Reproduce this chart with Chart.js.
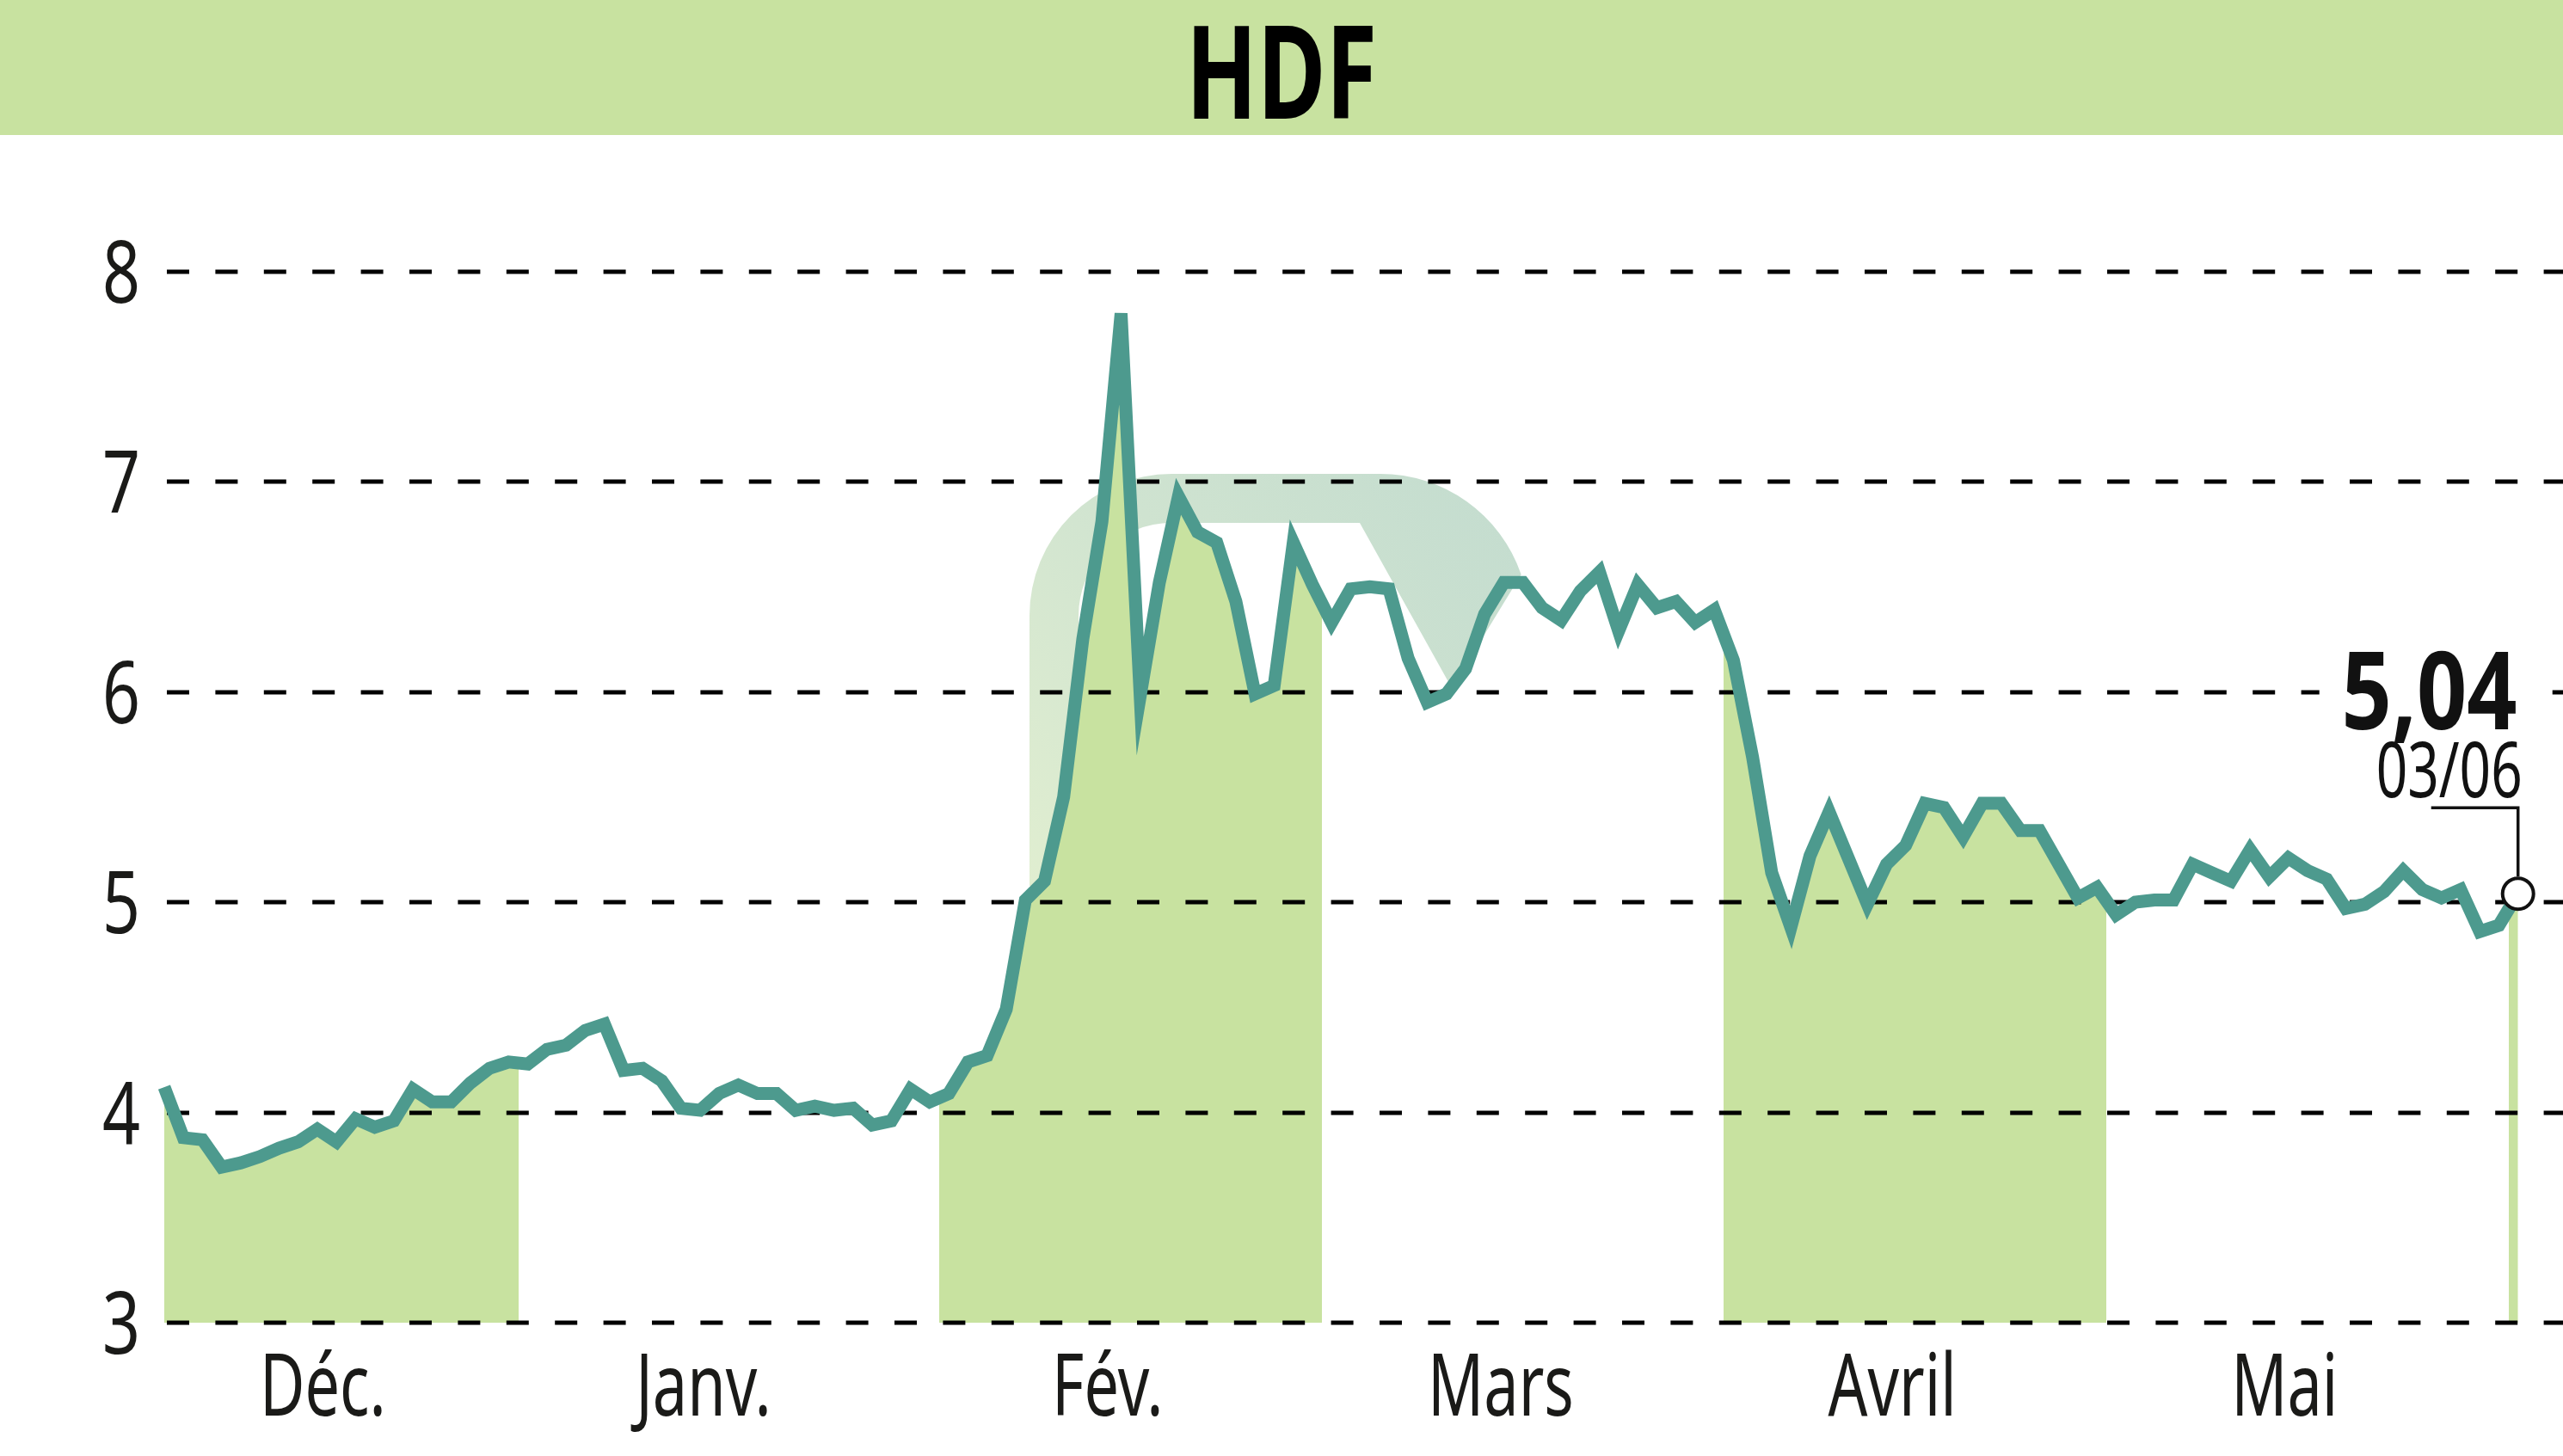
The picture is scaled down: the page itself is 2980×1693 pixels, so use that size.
<!DOCTYPE html>
<html lang="fr">
<head>
<meta charset="utf-8">
<title>HDF</title>
<script src="https://cdn.jsdelivr.net/npm/chart.js@4.4.1/dist/chart.umd.min.js"></script>
<style>
    html, body { margin: 0; padding: 0; background: #ffffff; }
    #wrap { position: relative; width: 2980px; height: 1693px; }
</style>
</head>
<body>
<div id="wrap"><canvas id="myChart"></canvas></div>
<script>
const title = "HDF";

// closing prices, one per trading day (Dec -> 03/06)
const prices = [
    4.12, 3.88, 3.87, 3.74, 3.76, 3.79, 3.83, 3.86, 3.92, 3.86,
    3.97, 3.93, 3.96, 4.11, 4.05, 4.05, 4.14, 4.21, 4.24, 4.23,
    4.30, 4.32, 4.39, 4.42, 4.20, 4.21, 4.15, 4.02, 4.01, 4.09,
    4.13, 4.09, 4.09, 4.01, 4.03, 4.01, 4.02, 3.94, 3.96, 4.11,
    4.05, 4.09, 4.24, 4.27, 4.49, 5.01, 5.10, 5.50, 6.25, 6.81,
    7.80, 5.98, 6.52, 6.93, 6.76, 6.71, 6.43, 5.99, 6.03, 6.71,
    6.51, 6.33, 6.49, 6.50, 6.49, 6.16, 5.95, 5.99, 6.11, 6.37,
    6.52, 6.52, 6.40, 6.34, 6.48, 6.57, 6.29, 6.51, 6.40, 6.43,
    6.33, 6.39, 6.15, 5.69, 5.14, 4.88, 5.22, 5.43, 5.21, 4.99,
    5.18, 5.27, 5.47, 5.45, 5.31, 5.47, 5.47, 5.34, 5.34, 5.18,
    5.02, 5.07, 4.94, 5.00, 5.01, 5.01, 5.18, 5.14, 5.10, 5.25,
    5.12, 5.21, 5.15, 5.11, 4.97, 4.99, 5.05, 5.15, 5.06, 5.02,
    5.06, 4.86, 4.89, 5.04
];

// index of the first trading day of each month (Déc ... Juin)
const monthStarts = [0, 19, 41, 61, 82, 102, 123];
const monthNames = ["Déc.", "Janv.", "Fév.", "Mars", "Avril", "Mai"];
const monthLabelPos = [8.29, 28.18, 49.3, 69.84, 90.3, 110.8];

const yTicks = [3, 4, 5, 6, 7, 8];
const lastDate = "03/06";

const GREEN = "#c8e2a0";
const LINE = "#4d9a8e";
const INK = "#1a1a18";
const FONT = "'Noto Sans', 'Open Sans', 'Liberation Sans', sans-serif";

const points = prices.map((v, i) => ({ x: i, y: v }));

// shaded months: Déc, Fév, Avril, Juin
function shadedBands() {
    const bands = [];
    for (let k = 0; k < monthStarts.length; k += 2) {
        const from = monthStarts[k] - 0.5;
        const to = (k + 1 < monthStarts.length ? monthStarts[k + 1] : prices.length) - 0.5;
        bands.push([from, to]);
    }
    return bands;
}

function bandGradient(context) {
    const chart = context.chart;
    const { ctx, chartArea, scales } = chart;
    if (!chartArea || !scales.x) return GREEN;
    const x = scales.x;
    const left = chartArea.left;
    const w = chartArea.right - chartArea.left;
    const g = ctx.createLinearGradient(left, 0, chartArea.right, 0);
    const clamp = (p) => Math.min(1, Math.max(0, p));
    const clear = "rgba(255,255,255,0)";
    g.addColorStop(0, clear);
    shadedBands().forEach(([a, b]) => {
        const pa = clamp((x.getPixelForValue(a) - left) / w);
        const pb = clamp((x.getPixelForValue(b) - left) / w);
        g.addColorStop(pa, clear);
        g.addColorStop(pa, GREEN);
        g.addColorStop(pb, GREEN);
        g.addColorStop(pb, clear);
    });
    g.addColorStop(1, clear);
    return g;
}

// the reference uses a condensed face, so squeeze the text horizontally
function condensedText(ctx, text, x, y, font, sx, align) {
    ctx.save();
    ctx.translate(x, y);
    ctx.scale(sx, 1);
    ctx.font = font;
    ctx.textAlign = align;
    ctx.textBaseline = "alphabetic";
    ctx.fillText(text, 0, 0);
    ctx.restore();
}

// faded logo behind the curve
function drawWatermark(ctx) {
    const g = ctx.createLinearGradient(1197, 1030, 1780, 560);
    g.addColorStop(0, "#e0eed0");
    g.addColorStop(0.5, "#cfe3d0");
    g.addColorStop(1, "#c3dccf");
    ctx.fillStyle = g;
    ctx.beginPath();
    ctx.moveTo(1197, 1030);
    ctx.lineTo(1197, 716);
    ctx.arc(1362, 716, 165, Math.PI, 1.5 * Math.PI);
    ctx.lineTo(1605, 551);
    ctx.arc(1605, 724, 173, 1.5 * Math.PI, 2 * Math.PI - 0.33);
    ctx.lineTo(1688, 800);
    ctx.lineTo(1581, 608);
    ctx.lineTo(1362, 608);
    ctx.arc(1362, 716, 108, 1.5 * Math.PI, Math.PI, true);
    ctx.lineTo(1254, 1030);
    ctx.closePath();
    ctx.fill();
}

const decor = {
    id: "decor",
    beforeDraw(chart) {
        const { ctx, width, height } = chart;
        ctx.save();
        ctx.fillStyle = "#ffffff";
        ctx.fillRect(0, 0, width, height);
        ctx.fillStyle = GREEN;
        ctx.fillRect(0, 0, width, 157);
        ctx.fillStyle = "#000000";
        condensedText(ctx, title, width / 2, 138, "bold 151px " + FONT, 0.72, "center");
        drawWatermark(ctx);
        ctx.restore();
    },
    // dashed grid goes over the green fill but under the line
    beforeDatasetDraw(chart, args) {
        if (args.index !== 0) return;
        const { ctx, chartArea } = chart;
        const y = chart.scales.y;
        ctx.save();
        ctx.strokeStyle = "#000000";
        ctx.lineWidth = 5;
        ctx.setLineDash([26, 30.4]);
        y.ticks.forEach((t) => {
            const py = Math.round(y.getPixelForValue(t.value));
            ctx.beginPath();
            ctx.moveTo(chartArea.left + 7.5, py);
            ctx.lineTo(chartArea.right, py);
            ctx.stroke();
        });
        ctx.restore();
    },
    afterDatasetsDraw(chart) {
        const { ctx } = chart;
        const { x, y } = chart.scales;
        ctx.save();
        ctx.fillStyle = INK;
        // axis labels, placed with the scales
        x.ticks.forEach((t, i) => {
            condensedText(ctx, monthNames[i], x.getPixelForValue(t.value), 1646, "100px " + FONT, 0.72, "center");
        });
        y.ticks.forEach((t) => {
            condensedText(ctx, String(t.value), 163, y.getPixelForValue(t.value) + 36, "100px " + FONT, 0.77, "right");
        });

        const meta = chart.getDatasetMeta(0);
        const last = meta.data[meta.data.length - 1];
        const px = last.x;
        const py = last.y;
        const txt = prices[prices.length - 1].toFixed(2).replace(".", ",");
        // white box behind the value hides the grid dashes
        ctx.fillStyle = "#ffffff";
        ctx.fillRect(px - 231, py - 285, 271, 104);
        ctx.fillStyle = "#111111";
        condensedText(ctx, txt, px - 1, py - 191, "bold 126px " + FONT, 0.81, "right");
        condensedText(ctx, lastDate, px + 5, py - 112, "90px " + FONT, 0.71, "right");
        // leader
        ctx.strokeStyle = "#111111";
        ctx.lineWidth = 3.5;
        ctx.beginPath();
        ctx.moveTo(px - 101, py - 100);
        ctx.lineTo(px, py - 100);
        ctx.lineTo(px, py - 20);
        ctx.stroke();
        ctx.restore();
    },
};

const config = {
    type: "line",
    data: {
        datasets: [
            {
                label: title,
                data: points,
                borderColor: LINE,
                borderWidth: 15,
                borderJoinStyle: "miter",
                backgroundColor: bandGradient,
                fill: "start",
                tension: 0,
                pointRadius: (c) => (c.dataIndex === prices.length - 1 ? 18 : 0),
                pointBackgroundColor: "#ffffff",
                pointBorderColor: "#111111",
                pointBorderWidth: 4,
                clip: false,
            },
        ],
    },
    options: {
        responsive: true,
        maintainAspectRatio: false,
        animation: false,
        layout: { autoPadding: false, padding: { top: 315.5, left: 0, right: 0, bottom: 0 } },
        plugins: {
            legend: { display: false },
            tooltip: { enabled: false },
            title: { display: false },
        },
        scales: {
            x: {
                type: "linear",
                min: -0.2,
                max: 125.35,
                grid: { display: false, drawTicks: false },
                border: { display: false },
                afterBuildTicks(scale) {
                    scale.ticks = monthLabelPos.map((v) => ({ value: v }));
                },
                afterFit(scale) {
                    scale.height = 155;
                },
                ticks: {
                    display: false,
                    autoSkip: false,
                    callback: (value, index) => monthNames[index],
                },
            },
            y: {
                min: yTicks[0],
                max: yTicks[yTicks.length - 1],
                grid: { display: false, drawTicks: false },
                border: { display: false },
                afterBuildTicks(scale) {
                    scale.ticks = yTicks.map((v) => ({ value: v }));
                },
                afterFit(scale) {
                    scale.width = 186.5;
                },
                ticks: { display: false },
            },
        },
    },
    plugins: [decor],
};

document.addEventListener("DOMContentLoaded", function () {
    const ctx = document.getElementById("myChart").getContext("2d");
    const myChart = new Chart(ctx, config);
});
</script>
</body>
</html>
